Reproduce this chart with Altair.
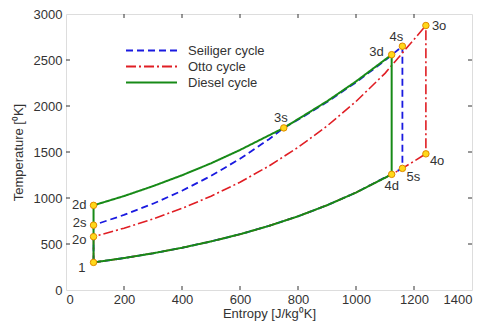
import altair as alt
import pandas as pd

# ---------------- data ----------------
cycles = ["Seiliger cycle", "Otto cycle", "Diesel cycle"]
colors = ["#1a1ae0", "#e01e24", "#178a17"]
dashes = [[7, 4], [10, 3, 2, 3], [1, 0]]

seiliger_s = [95, 95, 200, 300, 400, 500, 600, 700, 751, 800, 900, 1000, 1100, 1160,
              1160, 1000, 900, 800, 700, 600, 500, 400, 300, 200, 95]
seiliger_T = [300, 705, 816, 938, 1079, 1240, 1426, 1639, 1762, 1850, 2043, 2257, 2494, 2650,
              1322, 1059, 921, 801, 697, 606, 528, 459, 399, 347, 300]

otto_s = [95, 95, 200, 300, 400, 500, 600, 700, 800, 900, 1000, 1100, 1241,
          1241, 1160, 1123, 1000, 900, 800, 700, 600, 500, 400, 300, 200, 95]
otto_T = [300, 580, 672, 772, 887, 1020, 1172, 1348, 1550, 1782, 2049, 2355, 2875,
          1480, 1322, 1257, 1059, 921, 801, 697, 606, 528, 459, 399, 347, 300]

diesel_s = [95, 95, 200, 300, 400, 500, 600, 700, 751, 800, 900, 1000, 1123,
            1123, 1000, 900, 800, 700, 600, 500, 400, 300, 200, 95]
diesel_T = [300, 920, 1021, 1129, 1247, 1377, 1522, 1681, 1762, 1857, 2051, 2267, 2558,
            1257, 1059, 921, 801, 697, 606, 528, 459, 399, 347, 300]

point_names = ["1", "2o", "2s", "2d", "3s", "3d", "4s", "3o", "4o", "5s", "4d"]
point_s = [95, 95, 95, 95, 751, 1123, 1160, 1241, 1241, 1160, 1123]
point_T = [300, 580, 705, 920, 1762, 2558, 2650, 2875, 1480, 1322, 1257]

x_ticks = [0, 200, 400, 600, 800, 1000, 1200, 1400]
y_ticks = [0, 500, 1000, 1500, 2000, 2500, 3000]

# ---------------- tables ----------------
rows = []
for name, ss, TT in [(cycles[0], seiliger_s, seiliger_T),
                     (cycles[1], otto_s, otto_T),
                     (cycles[2], diesel_s, diesel_T)]:
    for i, (a, b) in enumerate(zip(ss, TT)):
        rows.append({"cycle": name, "s": a, "T": b, "i": i})
lines_df = pd.DataFrame(rows)
pts_df = pd.DataFrame({"name": point_names, "s": point_s, "T": point_T})
xt_df = pd.DataFrame({"v": x_ticks[1:-1]})
yt_df = pd.DataFrame({"v": y_ticks[1:-1]})

W, H = 406, 276
FONT = "Liberation Sans"
TXT = "#333333"

xscale = alt.Scale(domain=[0, 1400], nice=False, zero=False)
yscale = alt.Scale(domain=[0, 3000], nice=False, zero=False)

color_scale = alt.Scale(domain=cycles, range=colors)
dash_scale = alt.Scale(domain=cycles, range=dashes)

axis_style = dict(tickSize=0, format="d", domain=False, grid=False,
                  labelFont=FONT, labelFontSize=13, labelColor=TXT,
                  titleFont=FONT, titleFontSize=13, titleColor=TXT, titleFontWeight="normal")

x_enc = alt.X("s:Q", scale=xscale,
              axis=alt.Axis(values=x_ticks, title="Entropy [J/kg⁰K]",
                            labelPadding=3, titlePadding=1, **axis_style))
y_enc = alt.Y("T:Q", scale=yscale,
              axis=alt.Axis(values=y_ticks, title="Temperature [⁰K]",
                            labelPadding=4, titlePadding=8, **axis_style))

legend = alt.Legend(title=None, orient="none", legendX=55, legendY=25,
                    symbolType="stroke", symbolStrokeWidth=2, symbolSize=2600,
                    clipHeight=15, labelFontSize=13, labelFont=FONT, labelColor=TXT,
                    rowPadding=1, labelOffset=10, fillColor="white", padding=4)

def cycle_layer(name, width):
    return alt.Chart(lines_df).transform_filter(
        alt.datum.cycle == name
    ).mark_line(strokeWidth=width, interpolate="linear").encode(
        x=x_enc, y=y_enc,
        color=alt.Color("cycle:N", scale=color_scale, legend=legend),
        strokeDash=alt.StrokeDash("cycle:N", scale=dash_scale, legend=legend),
        order=alt.Order("i:Q"),
    )

layers = [cycle_layer(cycles[0], 1.8), cycle_layer(cycles[1], 1.6), cycle_layer(cycles[2], 2)]

points = alt.Chart(pts_df).mark_point(shape="circle", filled=True, fill="#ffd81a",
                                      stroke="#e08a00", strokeWidth=1, size=42,
                                      opacity=1).encode(x="s:Q", y="T:Q")

def label(names, **kw):
    return alt.Chart(pts_df).transform_filter(
        alt.FieldOneOfPredicate(field="name", oneOf=names)
    ).mark_text(font=FONT, fontSize=13, color=TXT, baseline="middle", **kw).encode(
        x="s:Q", y="T:Q", text="name:N")

labels = [
    label(["2d"], align="right", dx=-7, dy=0),
    label(["2s"], align="right", dx=-7, dy=-2),
    label(["2o"], align="right", dx=-7, dy=3),
    label(["1"], align="right", dx=-8, dy=6),
    label(["3s"], align="center", dx=-3, dy=-10),
    label(["3d"], align="right", dx=-8, dy=-3),
    label(["4s"], align="center", dx=-6, dy=-9),
    label(["3o"], align="left", dx=6, dy=0),
    label(["4o"], align="left", dx=4, dy=7),
    label(["5s"], align="left", dx=4, dy=9),
    label(["4d"], align="center", dx=0, dy=12),
]

tick_style = dict(color="#333333", strokeWidth=1)
ticks = [
    alt.Chart(xt_df).mark_rule(**tick_style).encode(x=alt.X("v:Q", scale=xscale), y=alt.value(H), y2=alt.value(H - 4)),
    alt.Chart(xt_df).mark_rule(**tick_style).encode(x=alt.X("v:Q", scale=xscale), y=alt.value(0), y2=alt.value(4)),
    alt.Chart(yt_df).mark_rule(**tick_style).encode(y=alt.Y("v:Q", scale=yscale), x=alt.value(0), x2=alt.value(4)),
    alt.Chart(yt_df).mark_rule(**tick_style).encode(y=alt.Y("v:Q", scale=yscale), x=alt.value(W), x2=alt.value(W - 4)),
]

chart = alt.layer(*layers, *ticks, points, *labels).properties(
    width=W, height=H,
    autosize=alt.AutoSizeParams(type="none"),
    padding={"left": 58, "top": 6, "right": 5, "bottom": 34},
).configure_view(stroke="#333333", strokeWidth=1).configure(background="white")

chart.save("out.html", embed_options={"renderer": "svg", "actions": False})
